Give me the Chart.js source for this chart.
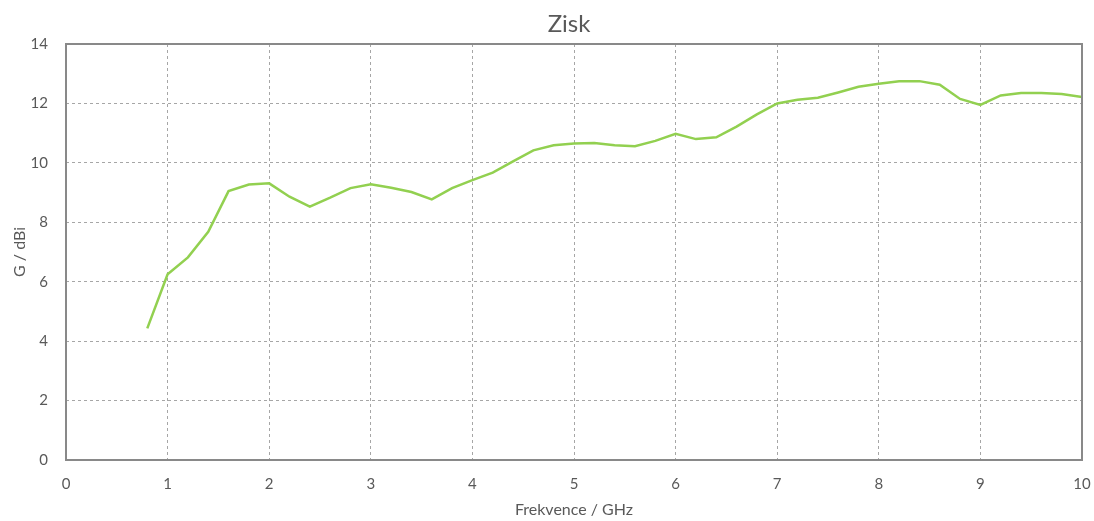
<!DOCTYPE html>
<html>
<head>
<meta charset="utf-8">
<script src="https://cdn.jsdelivr.net/npm/chart.js@4/dist/chart.umd.min.js"></script>
<style>
  html, body { margin: 0; padding: 0; background: #ffffff; }
  #wrap { width: 1094px; height: 521px; }
</style>
</head>
<body>
<div id="wrap"><canvas id="c" width="1094" height="521"></canvas></div>
<script>
// Frequency sweep (GHz) and measured gain (dBi)
const freqGHz = [0.8, 1.0, 1.2, 1.4, 1.6, 1.8, 2.0, 2.2, 2.4, 2.6, 2.8, 3.0, 3.2, 3.4, 3.6, 3.8,
                 4.0, 4.2, 4.4, 4.6, 4.8, 5.0, 5.2, 5.4, 5.6, 5.8, 6.0, 6.2, 6.4, 6.6, 6.8, 7.0,
                 7.2, 7.4, 7.6, 7.8, 8.0, 8.2, 8.4, 8.6, 8.8, 9.0, 9.2, 9.4, 9.6, 9.8, 10.0];
const gainDBi = [4.43, 6.25, 6.82, 7.68, 9.05, 9.27, 9.31, 8.86, 8.53, 8.83, 9.15, 9.28, 9.16, 9.02, 8.77, 9.15,
                 9.42, 9.67, 10.05, 10.42, 10.59, 10.65, 10.67, 10.59, 10.56, 10.74, 10.98, 10.80, 10.86, 11.22, 11.63, 12.00,
                 12.12, 12.19, 12.37, 12.56, 12.66, 12.75, 12.75, 12.63, 12.15, 11.95, 12.27, 12.35, 12.35, 12.32, 12.22];
const chartTitle = 'Zisk';
const xAxisTitle = 'Frekvence / GHz';
const yAxisTitle = 'G / dBi';

const FONT = 'Lato, "Open Sans", "Liberation Sans", sans-serif';
const TEXT = '#595959';

// Solid frame round the plot area; title centred over the plot
const frame = {
  id: 'frame',
  afterLayout(chart) {
    const a = chart.chartArea, t = chart.titleBlock;
    if (t) { t.left = a.left - 10; t.right = a.right; t.width = t.right - t.left; }
  },
  afterDraw(chart) {
    const a = chart.chartArea, ctx = chart.ctx;
    ctx.save();
    ctx.strokeStyle = '#898989';
    ctx.lineWidth = 2;
    ctx.strokeRect(a.left, a.top, a.right - a.left, a.bottom - a.top);
    ctx.restore();
  }
};

new Chart(document.getElementById('c'), {
  type: 'line',
  data: {
    datasets: [{
      data: freqGHz.map((f, i) => ({ x: f, y: gainDBi[i] })),
      borderColor: '#92d050',
      borderWidth: 2.5,
      pointRadius: 0,
      tension: 0,
      fill: false
    }]
  },
  options: {
    responsive: false,
    animation: false,
    layout: { padding: { left: 0, right: 12, top: 0, bottom: 0 } },
    plugins: {
      legend: { display: false },
      tooltip: { enabled: false },
      title: {
        display: true,
        text: chartTitle,
        color: TEXT,
        font: { family: FONT, size: 24, weight: 'normal', lineHeight: 1.2 },
        padding: { top: 10, bottom: 5.2 }
      }
    },
    scales: {
      x: {
        type: 'linear',
        min: 0, max: 10,
        afterFit(s) { s.height = 61; s.paddingLeft = 0; s.paddingRight = 0; },
        ticks: { stepSize: 1, color: TEXT, padding: 15, maxRotation: 0,
                 font: { family: FONT, size: 15 } },
        grid: { color: '#a6a6a6', lineWidth: 1, drawTicks: false },
        border: { display: false, dash: [3, 3] },
        title: { display: true, text: xAxisTitle, color: TEXT,
                 font: { family: FONT, size: 16 }, padding: { top: 2, bottom: 2 } }
      },
      y: {
        min: 0, max: 14,
        afterFit(s) { s.width = 66; s.paddingTop = 0; s.paddingBottom = 0; },
        ticks: { stepSize: 2, color: TEXT, padding: 18,
                 font: { family: FONT, size: 15 } },
        grid: { color: '#a6a6a6', lineWidth: 1, drawTicks: false },
        border: { display: false, dash: [3, 3] },
        title: { display: true, text: yAxisTitle, color: TEXT,
                 font: { family: FONT, size: 16 }, padding: { top: 10, bottom: 10 } }
      }
    }
  },
  plugins: [frame]
});
</script>
</body>
</html>
